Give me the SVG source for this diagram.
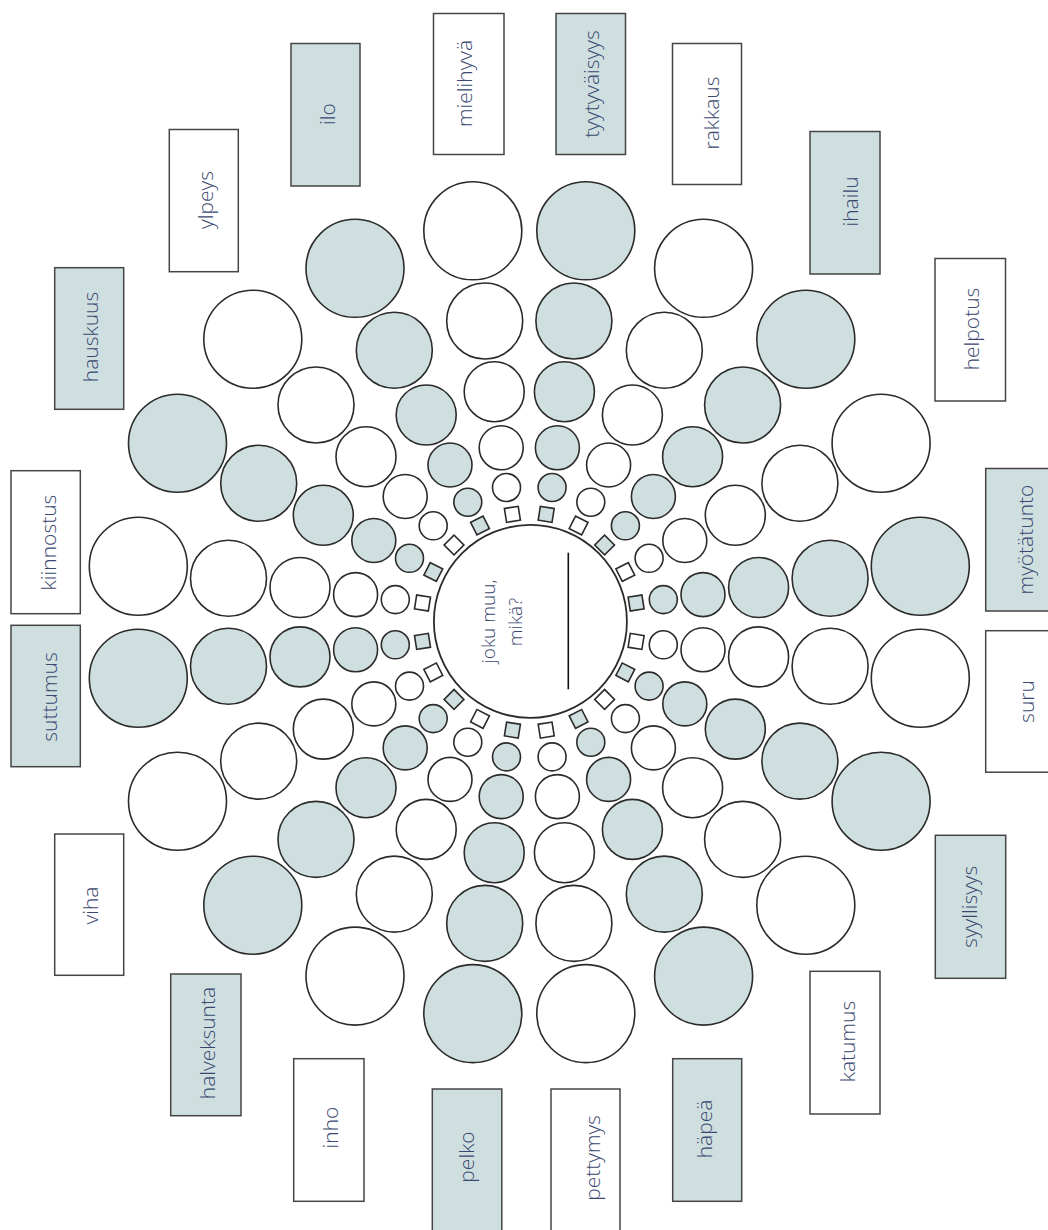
<svg xmlns="http://www.w3.org/2000/svg" width="1048" height="1230" viewBox="0 0 1048 1230">
<style>
.w circle,.w rect{fill:#fff;stroke:#2b2b2b;stroke-width:1.6}
.s circle,.s rect{fill:#cfdfe0;stroke:#2b2b2b;stroke-width:1.6}
rect.bw{fill:#fff;stroke:#454545;stroke-width:1.5}
rect.bs{fill:#cfdfe0;stroke:#454545;stroke-width:1.5}
.t{font-family:"Open Sans","Liberation Sans",sans-serif;font-weight:300;font-size:21px;fill:#3a4870;text-anchor:middle}
.c{font-size:19px}
</style>
<defs>
<g id="rA"><circle cx="472.8" cy="230.8" r="49"/><circle cx="484.7" cy="321" r="38"/><circle cx="494.2" cy="391.7" r="30"/><circle cx="501.2" cy="447.8" r="22"/><circle cx="506.5" cy="487.5" r="14"/><rect x="-7" y="-7" width="14" height="14" transform="translate(512.4 514.3) rotate(-9)"/></g>
</defs>
<rect width="1048" height="1230" fill="#fff"/>

<!-- upper-left quadrant -->
<g id="ray-mielihyva" class="w"><circle cx="472.8" cy="230.8" r="49"/><circle cx="484.7" cy="321" r="38"/><circle cx="494.2" cy="391.7" r="30"/><circle cx="501.2" cy="447.8" r="22"/><circle cx="506.5" cy="487.5" r="14"/><rect x="-7" y="-7" width="14" height="14" transform="translate(512.4 514.3) rotate(-9)"/></g>
<g id="ray-ilo" class="s"><circle cx="355" cy="268.3" r="49"/><circle cx="394.3" cy="350.3" r="38"/><circle cx="426.2" cy="415" r="30"/><circle cx="450" cy="465" r="22"/><circle cx="467.8" cy="502.2" r="14"/><rect x="-7" y="-7" width="14" height="14" transform="translate(480 525.5) rotate(-27)"/></g>
<g id="ray-ylpeys" class="w"><circle cx="252.8" cy="339.2" r="49"/><circle cx="316" cy="405" r="38"/><circle cx="366" cy="456.7" r="30"/><circle cx="405.2" cy="496.5" r="22"/><circle cx="433.2" cy="525.8" r="14"/><rect x="-7" y="-7" width="14" height="14" transform="translate(454 545) rotate(-45)"/></g>
<g id="ray-hauskuus" class="s"><circle cx="177.5" cy="443.2" r="49"/><circle cx="258.7" cy="483.3" r="38"/><circle cx="323.3" cy="515.3" r="30"/><circle cx="373.8" cy="540.5" r="22"/><circle cx="409.5" cy="558.3" r="14"/><rect x="-7" y="-7" width="14" height="14" transform="translate(433.3 572) rotate(-63)"/></g>
<g id="ray-kiinnostus" class="w"><circle cx="138.3" cy="566.2" r="49"/><circle cx="228.5" cy="578.2" r="38"/><circle cx="300" cy="587.5" r="30"/><circle cx="355.6" cy="594.6" r="22"/><circle cx="395.3" cy="599.6" r="14"/><rect x="-7" y="-7" width="14" height="14" transform="translate(422.5 603) rotate(-81)"/></g>

<!-- upper-right quadrant -->
<g id="ray-tyytyvaisyys" class="s" transform="matrix(-1 0 0 1 1058.6 0)"><circle cx="472.8" cy="230.8" r="49"/><circle cx="484.7" cy="321" r="38"/><circle cx="494.2" cy="391.7" r="30"/><circle cx="501.2" cy="447.8" r="22"/><circle cx="506.5" cy="487.5" r="14"/><rect x="-7" y="-7" width="14" height="14" transform="translate(512.4 514.3) rotate(-9)"/></g>
<g id="ray-rakkaus" class="w" transform="matrix(-1 0 0 1 1058.6 0)"><circle cx="355" cy="268.3" r="49"/><circle cx="394.3" cy="350.3" r="38"/><circle cx="426.2" cy="415" r="30"/><circle cx="450" cy="465" r="22"/><circle cx="467.8" cy="502.2" r="14"/><rect x="-7" y="-7" width="14" height="14" transform="translate(480 525.5) rotate(-27)"/></g>
<g id="ray-ihailu" class="s" transform="matrix(-1 0 0 1 1058.6 0)"><circle cx="252.8" cy="339.2" r="49"/><circle cx="316" cy="405" r="38"/><circle cx="366" cy="456.7" r="30"/><circle cx="405.2" cy="496.5" r="22"/><circle cx="433.2" cy="525.8" r="14"/><rect x="-7" y="-7" width="14" height="14" transform="translate(454 545) rotate(-45)"/></g>
<g id="ray-helpotus" class="w" transform="matrix(-1 0 0 1 1058.6 0)"><circle cx="177.5" cy="443.2" r="49"/><circle cx="258.7" cy="483.3" r="38"/><circle cx="323.3" cy="515.3" r="30"/><circle cx="373.8" cy="540.5" r="22"/><circle cx="409.5" cy="558.3" r="14"/><rect x="-7" y="-7" width="14" height="14" transform="translate(433.3 572) rotate(-63)"/></g>
<g id="ray-myotatunto" class="s" transform="matrix(-1 0 0 1 1058.6 0)"><circle cx="138.3" cy="566.2" r="49"/><circle cx="228.5" cy="578.2" r="38"/><circle cx="300" cy="587.5" r="30"/><circle cx="355.6" cy="594.6" r="22"/><circle cx="395.3" cy="599.6" r="14"/><rect x="-7" y="-7" width="14" height="14" transform="translate(422.5 603) rotate(-81)"/></g>

<!-- lower-left quadrant -->
<g id="ray-pelko" class="s" transform="matrix(1 0 0 -1 0 1244.4)"><circle cx="472.8" cy="230.8" r="49"/><circle cx="484.7" cy="321" r="38"/><circle cx="494.2" cy="391.7" r="30"/><circle cx="501.2" cy="447.8" r="22"/><circle cx="506.5" cy="487.5" r="14"/><rect x="-7" y="-7" width="14" height="14" transform="translate(512.4 514.3) rotate(-9)"/></g>
<g id="ray-inho" class="w" transform="matrix(1 0 0 -1 0 1244.4)"><circle cx="355" cy="268.3" r="49"/><circle cx="394.3" cy="350.3" r="38"/><circle cx="426.2" cy="415" r="30"/><circle cx="450" cy="465" r="22"/><circle cx="467.8" cy="502.2" r="14"/><rect x="-7" y="-7" width="14" height="14" transform="translate(480 525.5) rotate(-27)"/></g>
<g id="ray-halveksunta" class="s" transform="matrix(1 0 0 -1 0 1244.4)"><circle cx="252.8" cy="339.2" r="49"/><circle cx="316" cy="405" r="38"/><circle cx="366" cy="456.7" r="30"/><circle cx="405.2" cy="496.5" r="22"/><circle cx="433.2" cy="525.8" r="14"/><rect x="-7" y="-7" width="14" height="14" transform="translate(454 545) rotate(-45)"/></g>
<g id="ray-viha" class="w" transform="matrix(1 0 0 -1 0 1244.4)"><circle cx="177.5" cy="443.2" r="49"/><circle cx="258.7" cy="483.3" r="38"/><circle cx="323.3" cy="515.3" r="30"/><circle cx="373.8" cy="540.5" r="22"/><circle cx="409.5" cy="558.3" r="14"/><rect x="-7" y="-7" width="14" height="14" transform="translate(433.3 572) rotate(-63)"/></g>
<g id="ray-suttumus" class="s" transform="matrix(1 0 0 -1 0 1244.4)"><circle cx="138.3" cy="566.2" r="49"/><circle cx="228.5" cy="578.2" r="38"/><circle cx="300" cy="587.5" r="30"/><circle cx="355.6" cy="594.6" r="22"/><circle cx="395.3" cy="599.6" r="14"/><rect x="-7" y="-7" width="14" height="14" transform="translate(422.5 603) rotate(-81)"/></g>

<!-- lower-right quadrant -->
<g id="ray-pettymys" class="w" transform="matrix(-1 0 0 -1 1058.6 1244.4)"><circle cx="472.8" cy="230.8" r="49"/><circle cx="484.7" cy="321" r="38"/><circle cx="494.2" cy="391.7" r="30"/><circle cx="501.2" cy="447.8" r="22"/><circle cx="506.5" cy="487.5" r="14"/><rect x="-7" y="-7" width="14" height="14" transform="translate(512.4 514.3) rotate(-9)"/></g>
<g id="ray-hapea" class="s" transform="matrix(-1 0 0 -1 1058.6 1244.4)"><circle cx="355" cy="268.3" r="49"/><circle cx="394.3" cy="350.3" r="38"/><circle cx="426.2" cy="415" r="30"/><circle cx="450" cy="465" r="22"/><circle cx="467.8" cy="502.2" r="14"/><rect x="-7" y="-7" width="14" height="14" transform="translate(480 525.5) rotate(-27)"/></g>
<g id="ray-katumus" class="w" transform="matrix(-1 0 0 -1 1058.6 1244.4)"><circle cx="252.8" cy="339.2" r="49"/><circle cx="316" cy="405" r="38"/><circle cx="366" cy="456.7" r="30"/><circle cx="405.2" cy="496.5" r="22"/><circle cx="433.2" cy="525.8" r="14"/><rect x="-7" y="-7" width="14" height="14" transform="translate(454 545) rotate(-45)"/></g>
<g id="ray-syyllisyys" class="s" transform="matrix(-1 0 0 -1 1058.6 1244.4)"><circle cx="177.5" cy="443.2" r="49"/><circle cx="258.7" cy="483.3" r="38"/><circle cx="323.3" cy="515.3" r="30"/><circle cx="373.8" cy="540.5" r="22"/><circle cx="409.5" cy="558.3" r="14"/><rect x="-7" y="-7" width="14" height="14" transform="translate(433.3 572) rotate(-63)"/></g>
<g id="ray-suru" class="w" transform="matrix(-1 0 0 -1 1058.6 1244.4)"><circle cx="138.3" cy="566.2" r="49"/><circle cx="228.5" cy="578.2" r="38"/><circle cx="300" cy="587.5" r="30"/><circle cx="355.6" cy="594.6" r="22"/><circle cx="395.3" cy="599.6" r="14"/><rect x="-7" y="-7" width="14" height="14" transform="translate(422.5 603) rotate(-81)"/></g>

<!-- center -->
<g id="center">
<circle cx="530.4" cy="621.4" r="96.5" fill="#fff" stroke="#2b2b2b" stroke-width="1.8"/>
<text class="t c" transform="translate(495 621.5) rotate(-90)">joku muu,</text>
<text class="t c" transform="translate(521.5 622) rotate(-90)">mikä?</text>
<line x1="568.3" y1="552.7" x2="568.3" y2="689.3" stroke="#111" stroke-width="1.6"/>
</g>

<!-- labels -->
<g id="label-ilo"><rect class="bs" x="291" y="43.5" width="69" height="142.5"/><text class="t" transform="translate(335 114) rotate(-90)">ilo</text></g>
<g id="label-mielihyva"><rect class="bw" x="433.5" y="13.5" width="70.5" height="141"/><text class="t" transform="translate(472 83.5) rotate(-90)">mielihyvä</text></g>
<g id="label-tyytyvaisyys"><rect class="bs" x="556" y="13.5" width="69.5" height="141"/><text class="t" transform="translate(598.5 84) rotate(-90)">tyytyväisyys</text></g>
<g id="label-rakkaus"><rect class="bw" x="672.5" y="43.5" width="69" height="141"/><text class="t" transform="translate(719 113) rotate(-90)">rakkaus</text></g>
<g id="label-ihailu"><rect class="bs" x="810" y="131.5" width="70" height="142.5"/><text class="t" transform="translate(858 201.5) rotate(-90)">ihailu</text></g>
<g id="label-helpotus"><rect class="bw" x="935" y="258.5" width="70.5" height="142.5"/><text class="t" transform="translate(978.5 329) rotate(-90)">helpotus</text></g>
<g id="label-myotatunto"><rect class="bs" x="985.7" y="468.5" width="80" height="142.5"/><text class="t" transform="translate(1033 539.5) rotate(-90)">myötätunto</text></g>
<g id="label-suru"><rect class="bw" x="985.7" y="630.7" width="80" height="141.5"/><text class="t" transform="translate(1034 701.5) rotate(-90)">suru</text></g>
<g id="label-syyllisyys"><rect class="bs" x="935.3" y="835.3" width="70.4" height="143"/><text class="t" transform="translate(977 906.8) rotate(-90)">syyllisyys</text></g>
<g id="label-katumus"><rect class="bw" x="810" y="971.3" width="70" height="142.7"/><text class="t" transform="translate(854.5 1041.5) rotate(-90)">katumus</text></g>
<g id="label-hapea"><rect class="bs" x="672.7" y="1058.7" width="69" height="142.6"/><text class="t" transform="translate(712 1129) rotate(-90)">häpeä</text></g>
<g id="label-pettymys"><rect class="bw" x="551" y="1089" width="69" height="143"/><text class="t" transform="translate(600 1158) rotate(-90)">pettymys</text></g>
<g id="label-pelko"><rect class="bs" x="432.3" y="1089" width="69.5" height="143"/><text class="t" transform="translate(474 1157) rotate(-90)">pelko</text></g>
<g id="label-inho"><rect class="bw" x="293.7" y="1058.7" width="70.3" height="142.6"/><text class="t" transform="translate(338 1127.5) rotate(-90)">inho</text></g>
<g id="label-halveksunta"><rect class="bs" x="170.7" y="974" width="70.3" height="141.7"/><text class="t" transform="translate(215 1043) rotate(-90)">halveksunta</text></g>
<g id="label-viha"><rect class="bw" x="54.7" y="834" width="69" height="141.3"/><text class="t" transform="translate(98 905.5) rotate(-90)">viha</text></g>
<g id="label-suttumus"><rect class="bs" x="11" y="625.3" width="69.3" height="141.4"/><text class="t" transform="translate(56.5 697) rotate(-90)">suttumus</text></g>
<g id="label-kiinnostus"><rect class="bw" x="11" y="470.7" width="69.3" height="143"/><text class="t" transform="translate(56 542.5) rotate(-90)">kiinnostus</text></g>
<g id="label-hauskuus"><rect class="bs" x="54.7" y="267.7" width="69" height="141.6"/><text class="t" transform="translate(98 337) rotate(-90)">hauskuus</text></g>
<g id="label-ylpeys"><rect class="bw" x="169.3" y="129.5" width="69" height="142.2"/><text class="t" transform="translate(213 200) rotate(-90)">ylpeys</text></g>
</svg>
